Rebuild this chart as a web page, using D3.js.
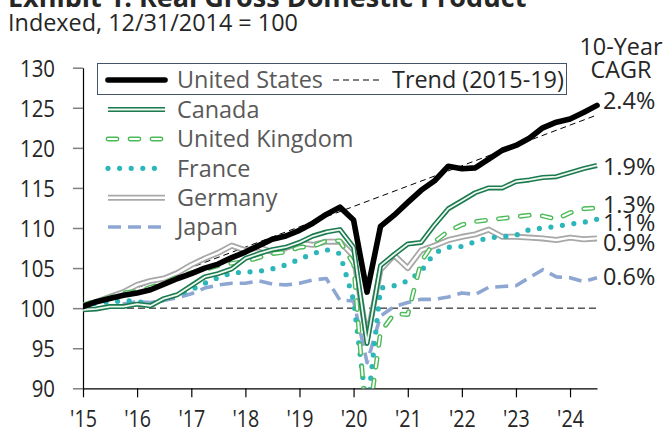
<!DOCTYPE html>
<html><head><meta charset="utf-8">
<script src="https://cdn.jsdelivr.net/npm/d3@7"></script>
<style>
body{margin:0;background:#fff;}
svg{display:block;font-family:"Open Sans",sans-serif;}
</style></head>
<body><svg id="c" width="664" height="434"></svg>
<script>
const quarters = ["2015Q1","2015Q2","2015Q3","2015Q4","2016Q1","2016Q2","2016Q3","2016Q4",
"2017Q1","2017Q2","2017Q3","2017Q4","2018Q1","2018Q2","2018Q3","2018Q4",
"2019Q1","2019Q2","2019Q3","2019Q4","2020Q1","2020Q2","2020Q3","2020Q4",
"2021Q1","2021Q2","2021Q3","2021Q4","2022Q1","2022Q2","2022Q3","2022Q4",
"2023Q1","2023Q2","2023Q3","2023Q4","2024Q1","2024Q2","2024Q3"];
const unitedStates = [100.2,100.8,101.2,101.6,101.9,102.3,103.0,103.7,104.3,105.0,105.5,106.3,
107.0,107.8,108.6,109.0,109.7,110.6,111.7,112.6,111.0,102.0,110.2,111.6,
113.2,114.7,115.9,117.7,117.4,117.5,118.6,119.7,120.3,121.2,122.5,123.2,123.6,124.4,125.3];
const canada = [99.8,99.9,100.2,100.2,100.5,100.3,101.2,101.7,102.8,103.9,104.3,104.9,
106.2,106.8,107.3,107.6,108.2,109.0,109.5,109.8,107.6,95.6,105.3,106.7,
108.0,108.2,110.4,112.4,113.4,114.4,115.0,115.0,115.8,116.0,116.3,116.4,116.9,117.4,117.8];
const unitedKingdom = [100.4,100.9,101.3,101.9,102.1,102.6,103.1,103.9,104.4,104.8,105.3,105.6,
105.8,106.3,106.8,107.0,107.6,107.7,108.4,108.4,105.5,84.5,97.0,99.3,
99.2,105.8,108.3,109.6,110.4,110.8,111.0,111.2,111.4,111.6,111.5,111.1,111.9,112.4,112.5];
const france = [100.4,100.6,100.8,100.9,100.9,100.4,101.1,101.7,102.3,103.1,103.8,104.4,
104.5,104.6,104.9,105.4,106.1,106.8,107.3,106.8,101.0,87.0,102.5,102.8,
103.4,104.6,106.9,107.6,107.7,108.3,108.8,108.9,109.1,109.8,110.0,110.2,110.5,110.7,111.1];
const germany = [100.2,100.8,101.4,102.0,102.9,103.4,103.7,104.4,105.4,106.2,106.9,107.8,
107.2,107.6,107.0,107.5,108.1,107.9,108.3,108.3,106.5,96.2,104.8,106.6,
105.0,107.2,107.8,108.5,108.9,109.2,109.8,108.9,108.9,108.8,108.7,108.5,108.8,108.6,108.7];
const japan = [100.0,99.9,100.2,100.5,100.8,100.7,101.0,101.3,101.8,102.5,102.9,103.1,
103.1,103.4,103.0,102.9,103.1,103.5,103.7,101.0,100.9,93.2,99.0,100.2,
100.7,101.1,101.1,101.4,101.9,101.7,102.6,102.7,102.8,103.8,104.8,103.9,103.8,103.3,103.8];
const trendQuarters = ["2015Q1","2024Q3"];
const trendValues = [100.0,124.1];
const baselineValue = 100;
const seriesNames = ["United States","Canada","United Kingdom","France","Germany","Japan"];
const cagrLabels = ["2.4%","1.9%","1.3%","1.1%","0.9%","0.6%"];
const yTicks = [90,95,100,105,110,115,120,125,130];
const xTickYears = [2015,2016,2017,2018,2019,2020,2021,2022,2023,2024];
const xTickLabels = ["'15","'16","'17","'18","'19","'20","'21","'22","'23","'24"];

const parseQ = q => new Date(+q.slice(0,4), (+q[5]-1)*3, 1);
const svg = d3.select("#c");
const x = d3.scaleTime().domain([new Date(2015,0,1), new Date(2024,6,1)]).range([83, 597]);
const y = d3.scaleLinear().domain([90,130]).range([388.3, 67.7]);

const ink = "#262626";
svg.append("text").attr("x",8).attr("y",7)
  .attr("font-size",27).attr("font-weight","bold").attr("fill",ink)
  .text("Exhibit 1: Real Gross Domestic Product");
svg.append("text").attr("x",8).attr("y",31)
  .attr("font-size",23.4).attr("fill",ink).text("Indexed, 12/31/2014 = 100");

const yAxis = svg.append("g").attr("transform","translate(83,0)")
  .call(d3.axisLeft(y).tickValues(yTicks).tickSize(10).tickSizeOuter(0));
yAxis.select(".domain").attr("stroke","#000").attr("stroke-width",1.2);
yAxis.selectAll(".tick line").attr("stroke","#7f7f7f").attr("stroke-width",1.5);
yAxis.selectAll(".tick text").attr("x",null).attr("dy",null)
  .attr("transform","translate(-28,8.5) scale(0.85,1)")
  .attr("font-size",24).attr("font-family","Open Sans").attr("fill",ink);

const xAxis = svg.append("g").attr("transform","translate(0,388.3)")
  .call(d3.axisBottom(x).tickValues(xTickYears.map(v=>new Date(v,0,1)))
    .tickFormat((d,i)=>xTickLabels[i]).tickSize(9).tickSizeOuter(0));
xAxis.select(".domain").attr("stroke","#000").attr("stroke-width",1.2);
xAxis.selectAll(".tick line").attr("stroke","#000").attr("stroke-width",1.2);
xAxis.selectAll(".tick text").attr("y",null).attr("dy",null)
  .attr("transform","translate(0,39) scale(0.82,1)")
  .attr("font-size",24).attr("font-family","Open Sans").attr("fill",ink);

svg.append("clipPath").attr("id","plot").append("rect")
  .attr("x",83).attr("y",60).attr("width",520).attr("height",328.3);
const plot = svg.append("g").attr("clip-path","url(#plot)");

const line = d3.line().x((d,i)=>x(parseQ(quarters[i]))).y(d=>y(d));

plot.append("line").attr("x1",x.range()[0]).attr("x2",x.range()[1])
  .attr("y1",y(baselineValue)).attr("y2",y(baselineValue))
  .attr("stroke","#000").attr("stroke-width",1).attr("stroke-dasharray","7 4");
plot.append("path").datum(trendValues)
  .attr("d", d3.line().x((d,i)=>x(parseQ(trendQuarters[i]))).y(d=>y(d)))
  .attr("fill","none").attr("stroke","#000").attr("stroke-width",1).attr("stroke-dasharray","6 4");

const styles = {
  "Japan":[{stroke:"#8ea6d2",w:3.6,dash:"13 7"}],
  "Germany":[{stroke:"#a8a8a8",w:6},{stroke:"#fff",w:2.4}],
  "France":[{stroke:"#2bb6b9",w:5.2,dash:"0 11.6",cap:"round"}],
  "United Kingdom":[{stroke:"#4dba59",w:4.8,dash:"9 13",cap:"round"},{stroke:"#fff",w:2,dash:"9 13",cap:"round"}],
  "Canada":[{stroke:"#1b7a4f",w:5},{stroke:"#eef8f1",w:1.8}],
  "United States":[{stroke:"#000",w:5.6,cap:"round"}]
};
const dataByName = {"United States":unitedStates,"Canada":canada,"United Kingdom":unitedKingdom,
  "France":france,"Germany":germany,"Japan":japan};
function drawStyled(g, d, st, gen){
  st.forEach(s=>{
    g.append("path").datum(d).attr("d",gen).attr("fill","none")
      .attr("stroke",s.stroke).attr("stroke-width",s.w)
      .attr("stroke-dasharray",s.dash||null)
      .attr("stroke-linecap",s.cap||"butt").attr("stroke-linejoin","round");
  });
}
["Japan","Germany","France","United Kingdom","Canada","United States"].forEach(n=>{
  drawStyled(plot, dataByName[n], styles[n], line);
});

svg.append("rect").attr("x",97.5).attr("y",63.5).attr("width",469).attr("height",31)
  .attr("fill","#fff").attr("stroke","#44546a").attr("stroke-width",1);
const legRowY = [80,109.5,139,168.3,197.7,227];
seriesNames.forEach((n,i)=>{
  const cy = legRowY[i];
  drawStyled(svg, [[108,cy],[165,cy]], styles[n], d3.line());
  svg.append("text").attr("x",177).attr("y",cy+8.3).attr("font-size",23.4)
    .attr("fill","#595959").text(n);
});
svg.append("line").attr("x1",333).attr("x2",383).attr("y1",80).attr("y2",80)
  .attr("stroke","#000").attr("stroke-width",1).attr("stroke-dasharray","6 4");
svg.append("text").attr("x",392).attr("y",88.3).attr("font-size",23.4).attr("fill",ink)
  .text("Trend (2015-19)");

svg.append("text").attr("x",621).attr("y",55).attr("text-anchor","middle")
  .attr("font-size",23.4).attr("fill",ink).text("10-Year");
svg.append("text").attr("x",621).attr("y",78).attr("text-anchor","middle")
  .attr("font-size",23.4).attr("fill",ink).text("CAGR");
const labelY = [109,175,213,231,251,285];
cagrLabels.forEach((t,i)=>{
  svg.append("text").attr("x",603).attr("y",labelY[i]).attr("font-size",23.4)
    .attr("fill",ink).text(t);
});
</script></body></html>
